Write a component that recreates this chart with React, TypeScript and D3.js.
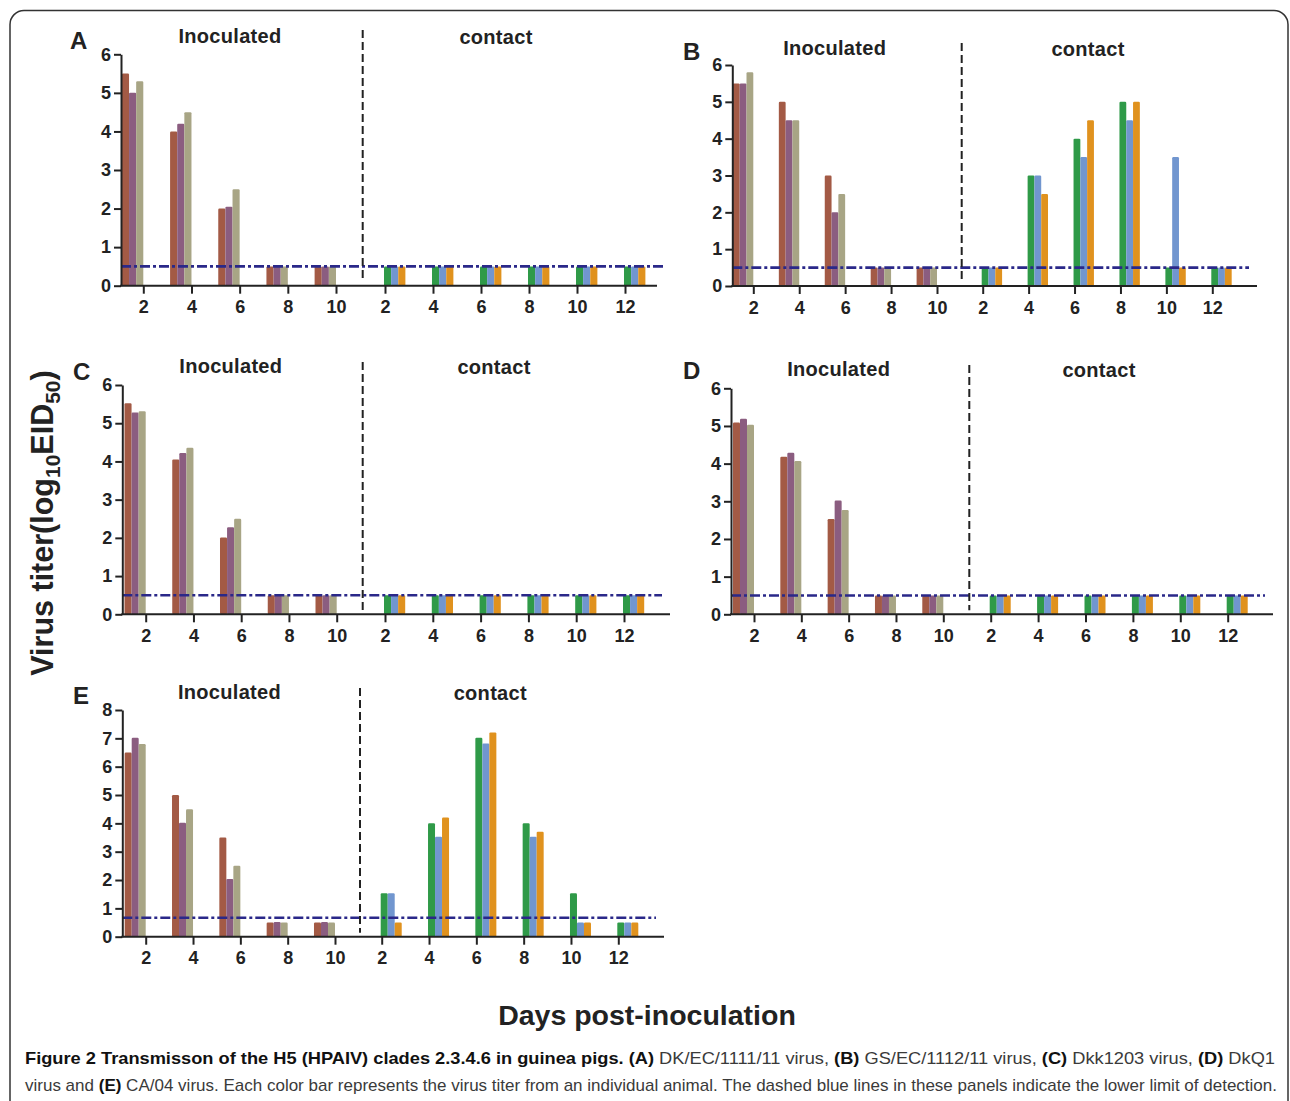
import React, { useEffect, useRef } from 'react';
import * as d3 from 'd3';

// days on the x axis
const inoculatedDays = [2, 4, 6, 8, 10];
const contactDays = [2, 4, 6, 8, 10, 12];

// virus titer per day, one value per animal (3 animals per group)
const inocA = [[5.5, 5.0, 5.3], [4.0, 4.2, 4.5], [2.0, 2.05, 2.5], [0.5, 0.5, 0.5], [0.5, 0.5, 0.5]];
const contA = [[0.5, 0.5, 0.5], [0.5, 0.5, 0.5], [0.5, 0.5, 0.5], [0.5, 0.5, 0.5], [0.5, 0.5, 0.5], [0.5, 0.5, 0.5]];

const inocB = [[5.5, 5.5, 5.8], [5.0, 4.5, 4.5], [3.0, 2.0, 2.5], [0.5, 0.5, 0.5], [0.5, 0.5, 0.5]];
const contB = [[0.5, 0.5, 0.5], [3.0, 3.0, 2.5], [4.0, 3.5, 4.5], [5.0, 4.5, 5.0], [0.5, 3.5, 0.5], [0.5, 0.5, 0.5]];

const inocC = [[5.52, 5.28, 5.31], [4.05, 4.22, 4.36], [2.01, 2.28, 2.5], [0.5, 0.5, 0.5], [0.5, 0.5, 0.5]];
const contC = [[0.5, 0.5, 0.5], [0.5, 0.5, 0.5], [0.5, 0.5, 0.5], [0.5, 0.5, 0.5], [0.5, 0.5, 0.5], [0.5, 0.5, 0.5]];

const inocD = [[5.09, 5.19, 5.03], [4.18, 4.29, 4.07], [2.53, 3.02, 2.77], [0.5, 0.5, 0.5], [0.5, 0.5, 0.5]];
const contD = [[0.5, 0.5, 0.5], [0.5, 0.5, 0.5], [0.5, 0.5, 0.5], [0.5, 0.5, 0.5], [0.5, 0.5, 0.5], [0.5, 0.5, 0.5]];

const inocE = [[6.5, 7.02, 6.8], [5.0, 4.02, 4.5], [3.5, 2.04, 2.5], [0.5, 0.52, 0.5], [0.5, 0.52, 0.5]];
const contE = [[1.53, 1.53, 0.5], [4.0, 3.53, 4.21], [7.02, 6.82, 7.21], [4.0, 3.53, 3.7], [1.53, 0.5, 0.5], [0.5, 0.5, 0.5]];

// lower limit of detection
const detectionLimits = [0.5, 0.5, 0.5, 0.5, 0.67];
const yMaxes = [6, 6, 6, 6, 8];
const panelLetters = ['A', 'B', 'C', 'D', 'E'];

const inocColors = ['#a35a45', '#8b5d80', '#a8a585'];
const contColors = ['#2f9a48', '#7196cf', '#e0921e'];

const FONT = 'Liberation Sans, Arial, Helvetica, sans-serif';
const INK = '#222';

// layout of each panel (pixels)
const layout = [
  { ax: 121, y0: 285.7, yTop: 54.3, i2: 143.3, i10: 336, c2: 385, c12: 625, xEnd: 657, div: 362.7, divTop: 30, detEnd: 666,
    it: [230, 42.7], ct: [496, 44], lt: [70, 49] },
  { ax: 732.3, y0: 286, yTop: 65, i2: 753.3, i10: 937, c2: 982.7, c12: 1212.3, xEnd: 1257, div: 961.7, divTop: 43, detEnd: 1249,
    it: [834.7, 55], ct: [1088, 56], lt: [683, 60] },
  { ax: 122.3, y0: 614.3, yTop: 385, i2: 145.7, i10: 336.7, c2: 385, c12: 624, xEnd: 670, div: 362.7, divTop: 362, detEnd: 662,
    it: [230.8, 373.3], ct: [494, 374], lt: [73, 380] },
  { ax: 731, y0: 614.3, yTop: 388.3, i2: 754, i10: 943.3, c2: 990.7, c12: 1227.7, xEnd: 1273, div: 969.3, divTop: 365, detEnd: 1265,
    it: [838.7, 375.7], ct: [1099, 376.7], lt: [683, 379] },
  { ax: 122.3, y0: 936.7, yTop: 710, i2: 145.7, i10: 335, c2: 381.7, c12: 618.3, xEnd: 664, div: 360, divTop: 688, detEnd: 656,
    it: [229.5, 699], ct: [490.3, 700], lt: [73, 704] },
];

const inocData = [inocA, inocB, inocC, inocD, inocE];
const contData = [contA, contB, contC, contD, contE];

function drawPanel(root: d3.Selection<SVGGElement, unknown, null, undefined>, p: number) {
  const L = layout[p];
  const g = root.append('g');

  const y = d3.scaleLinear().domain([0, yMaxes[p]]).range([L.y0, L.yTop]);
  const xi = d3.scaleLinear().domain([2, 10]).range([L.i2, L.i10]);
  const xc = d3.scaleLinear().domain([2, 12]).range([L.c2, L.c12]);
  const bw = (xi(4) - xi(2)) * 0.148;

  // bars: inoculated sit left of the tick, contact right of it
  inocData[p].forEach((vals, di) => {
    vals.forEach((v, k) => {
      g.append('rect')
        .attr('x', xi(inoculatedDays[di]) - 3 * bw + k * bw)
        .attr('y', y(v))
        .attr('width', bw)
        .attr('height', y(0) - y(v))
        .attr('rx', 1.2)
        .attr('fill', inocColors[k]);
    });
  });
  contData[p].forEach((vals, di) => {
    vals.forEach((v, k) => {
      g.append('rect')
        .attr('x', xc(contactDays[di]) - 1 + k * bw)
        .attr('y', y(v))
        .attr('width', bw)
        .attr('height', y(0) - y(v))
        .attr('rx', 1.2)
        .attr('fill', contColors[k]);
    });
  });

  // detection limit
  g.append('line')
    .attr('x1', L.ax).attr('x2', L.detEnd)
    .attr('y1', y(detectionLimits[p])).attr('y2', y(detectionLimits[p]))
    .attr('stroke', '#2a2889').attr('stroke-width', 2.6)
    .attr('stroke-dasharray', '10,3,3,3');

  // divider between groups
  g.append('line')
    .attr('x1', L.div).attr('x2', L.div)
    .attr('y1', L.divTop).attr('y2', L.y0 - 4)
    .attr('stroke', INK).attr('stroke-width', 2)
    .attr('stroke-dasharray', '8,4');

  // y axis
  const yAxis = g.append('g')
    .attr('transform', `translate(${L.ax},0)`)
    .call(d3.axisLeft(y).tickValues(d3.range(0, yMaxes[p] + 1)).tickSize(7).tickSizeOuter(0).tickPadding(3).tickFormat(d3.format('d')));

  // x axes
  const xAxisI = g.append('g')
    .attr('transform', `translate(0,${L.y0})`)
    .call(d3.axisBottom(xi).tickValues(inoculatedDays).tickSize(8).tickPadding(7).tickFormat(d3.format('d')));
  const xAxisC = g.append('g')
    .attr('transform', `translate(0,${L.y0})`)
    .call(d3.axisBottom(xc).tickValues(contactDays).tickSize(8).tickPadding(7).tickFormat(d3.format('d')));
  xAxisI.select('.domain').remove();
  xAxisC.select('.domain').remove();

  g.append('line')
    .attr('x1', L.ax - 1).attr('x2', L.xEnd)
    .attr('y1', L.y0).attr('y2', L.y0)
    .attr('stroke', INK).attr('stroke-width', 2);

  [yAxis, xAxisI, xAxisC].forEach(a => {
    a.attr('font-family', FONT).attr('font-size', 18).attr('font-weight', 'bold');
    a.selectAll('path').attr('stroke', INK).attr('stroke-width', 2);
    a.selectAll('line').attr('stroke', INK).attr('stroke-width', 2);
    a.selectAll('text').attr('fill', INK);
  });

  // titles
  const title = (t: string, pos: number[]) =>
    g.append('text')
      .attr('x', pos[0]).attr('y', pos[1])
      .attr('text-anchor', 'middle')
      .attr('font-family', FONT).attr('font-weight', 'bold').attr('font-size', 20)
      .attr('letter-spacing', 0.3)
      .attr('fill', INK)
      .text(t);
  title('Inoculated', L.it);
  title('contact', L.ct);

  g.append('text')
    .attr('x', L.lt[0]).attr('y', L.lt[1])
    .attr('font-family', FONT).attr('font-weight', 'bold').attr('font-size', 24)
    .attr('fill', INK)
    .text(panelLetters[p]);
}

export default function App() {
  const ref = useRef<SVGGElement>(null);

  useEffect(() => {
    const root = d3.select(ref.current as SVGGElement);
    root.selectAll('*').remove();
    for (let p = 0; p < layout.length; p++) drawPanel(root, p);
  }, []);

  const cap = { fontFamily: 'Liberation Sans Narrow, Liberation Sans, Arial, sans-serif', fontSize: 17 };

  return (
    <svg width={1290} height={1101} style={{ position: 'absolute', left: 0, top: 0, background: '#fff' }}>
      <rect x={10} y={10.5} width={1278} height={1120} rx={14} fill="none" stroke="#333" strokeWidth={1.5} />
      <g ref={ref} />

      <text transform="translate(53,523) rotate(-90)" textAnchor="middle"
        fontFamily={FONT} fontWeight="bold" fontSize={30.5} fill={INK}>
        Virus titer(log<tspan fontSize={21} dy={7}>10</tspan><tspan dy={-7}>EID</tspan><tspan fontSize={21} dy={7}>50</tspan><tspan dy={-7}>)</tspan>
      </text>

      <text x={647} y={1025} textAnchor="middle" fontFamily={FONT} fontWeight="bold" fontSize={28.5} fill={INK}>
        Days post-inoculation
      </text>

      <text x={25} y={1064} {...cap} fill="#3a3a3a" textLength={1250} lengthAdjust="spacingAndGlyphs">
        <tspan fontWeight="bold" fill="#111">Figure 2 Transmisson of the H5 (HPAIV) clades 2.3.4.6 in guinea pigs.</tspan>
        <tspan> </tspan><tspan fontWeight="bold" fill="#111">(A)</tspan><tspan> DK/EC/1111/11 virus, </tspan>
        <tspan fontWeight="bold" fill="#111">(B)</tspan><tspan> GS/EC/1112/11 virus, </tspan>
        <tspan fontWeight="bold" fill="#111">(C)</tspan><tspan> Dkk1203 virus, </tspan>
        <tspan fontWeight="bold" fill="#111">(D)</tspan><tspan> DkQ1</tspan>
      </text>
      <text x={25} y={1091} {...cap} fill="#3a3a3a" textLength={1252} lengthAdjust="spacingAndGlyphs">
        <tspan>virus and </tspan><tspan fontWeight="bold" fill="#111">(E)</tspan>
        <tspan> CA/04 virus. Each color bar represents the virus titer from an individual animal. The dashed blue lines in these panels indicate the lower limit of detection.</tspan>
      </text>
    </svg>
  );
}
